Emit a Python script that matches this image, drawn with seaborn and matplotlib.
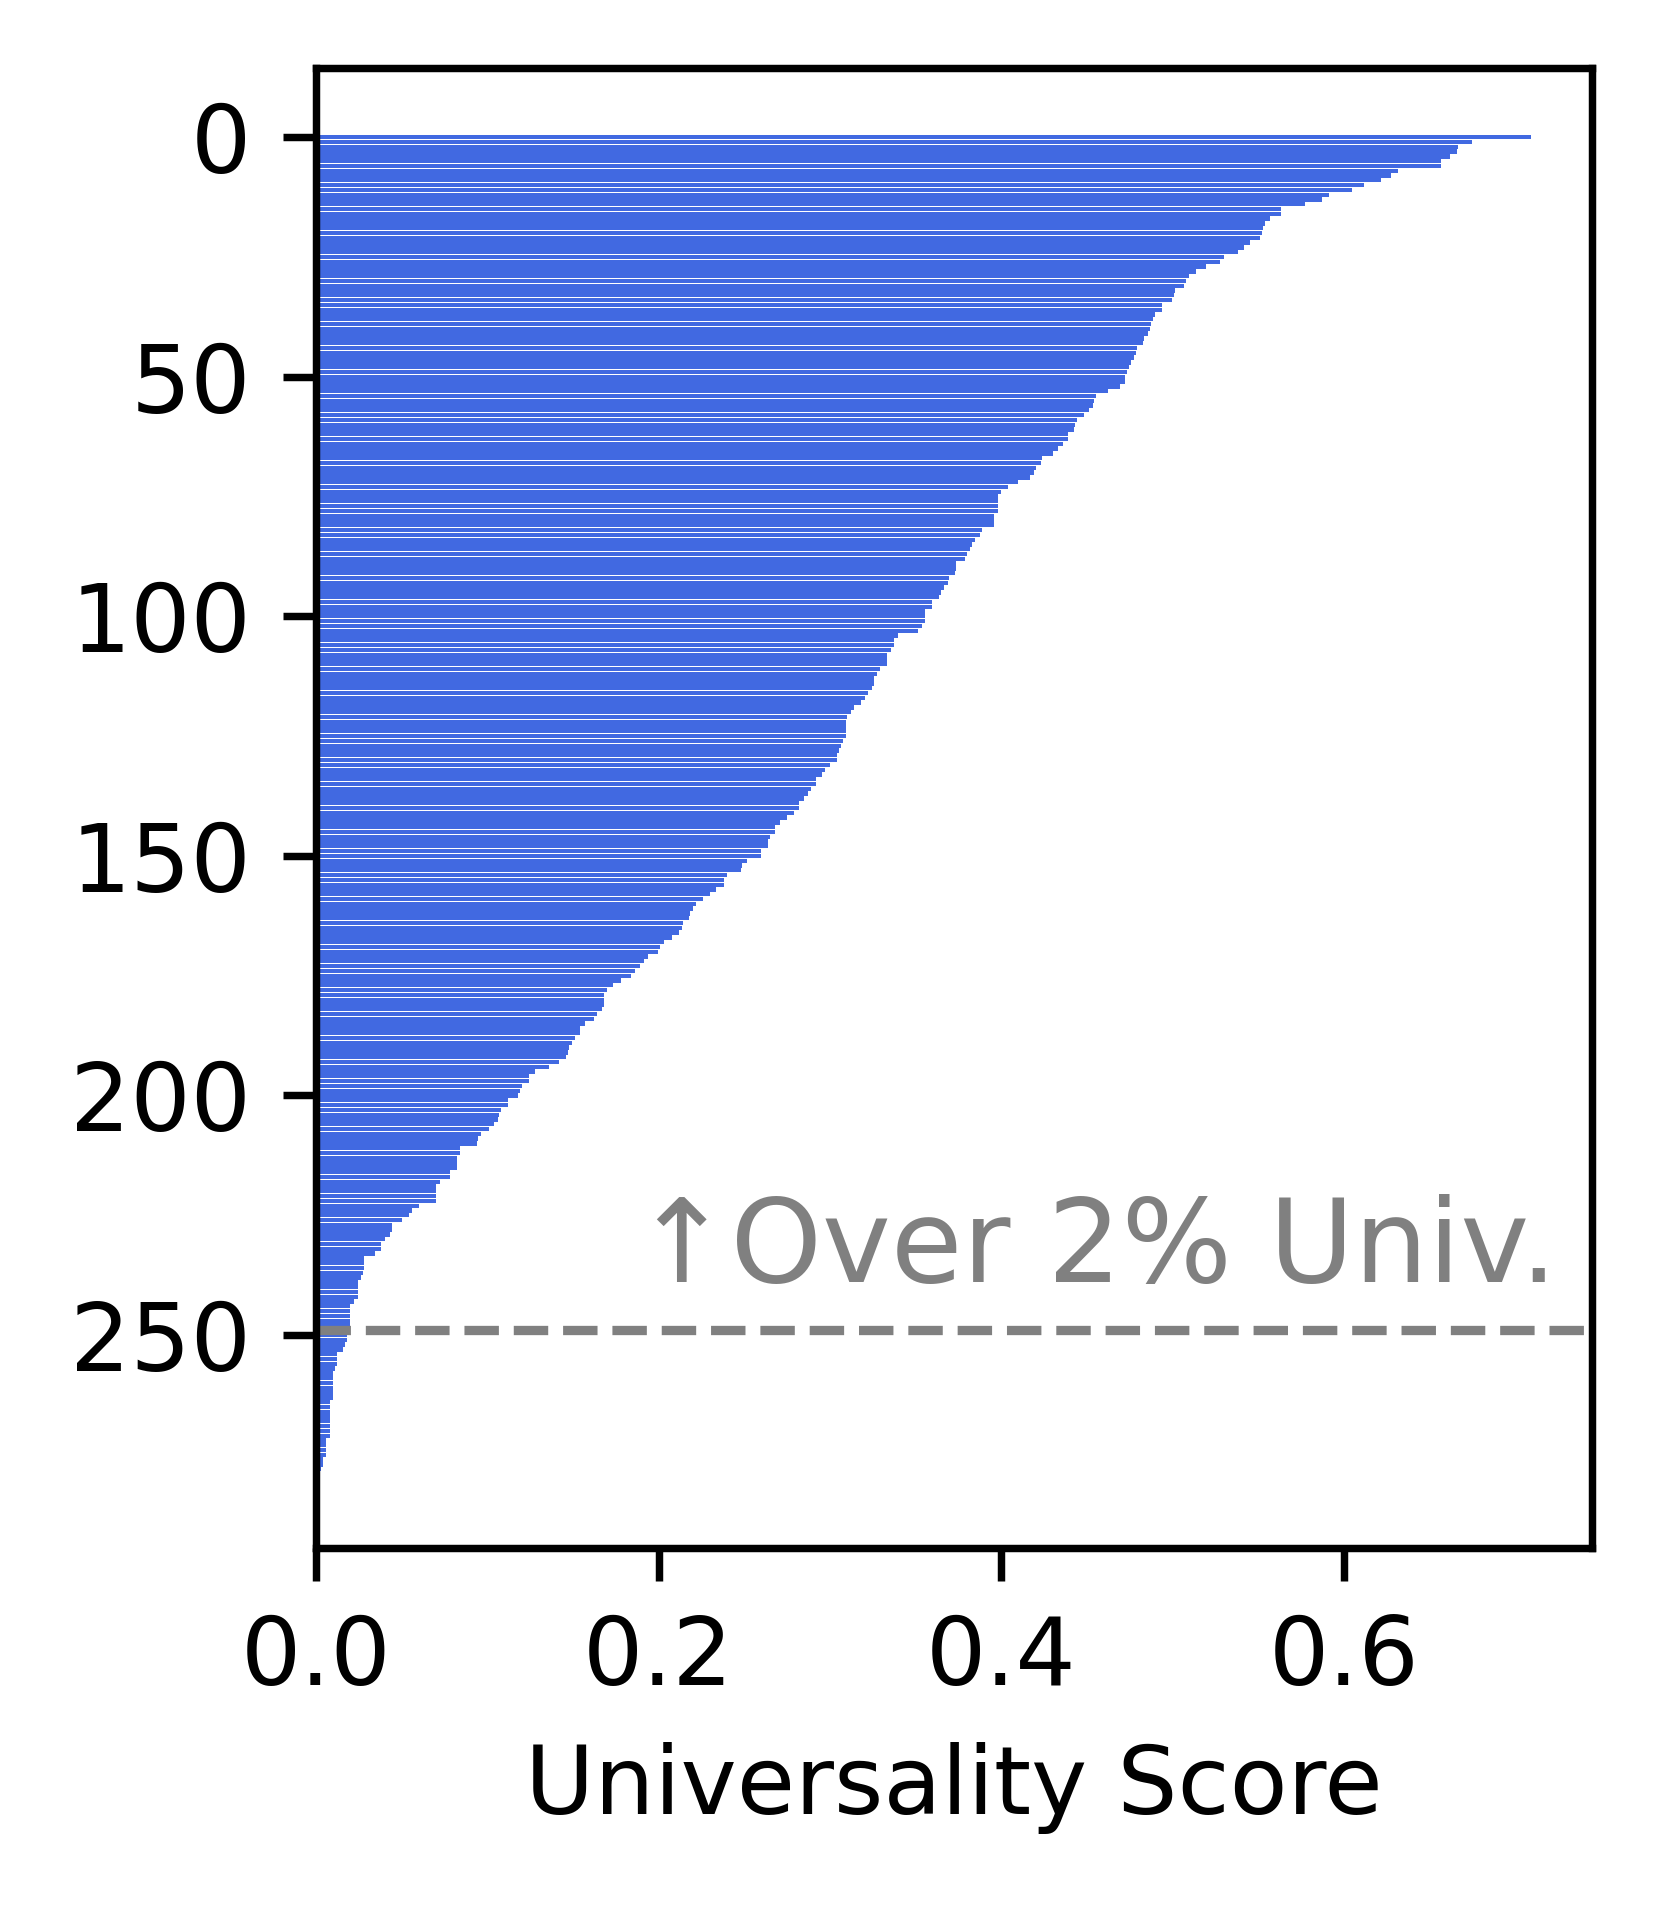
import matplotlib
matplotlib.use("Agg")
import matplotlib.pyplot as plt
import seaborn as sns
import numpy as np
import pandas as pd

# Universality score per feature, sorted descending
scores = [
    0.7093, 0.6751, 0.6670, 0.6660, 0.6620, 0.6570, 0.6570, 0.6318, 0.6277, 0.6217,
    0.6116, 0.6046, 0.5915, 0.5874, 0.5774, 0.5632, 0.5632, 0.5572, 0.5542, 0.5532,
    0.5522, 0.5512, 0.5451, 0.5421, 0.5381, 0.5300, 0.5280, 0.5199, 0.5139, 0.5098,
    0.5078, 0.5068, 0.5018, 0.5008, 0.4998, 0.4937, 0.4937, 0.4897, 0.4887, 0.4877,
    0.4867, 0.4857, 0.4836, 0.4826, 0.4796, 0.4786, 0.4776, 0.4756, 0.4746, 0.4736,
    0.4726, 0.4721, 0.4695, 0.4625, 0.4554, 0.4544, 0.4534, 0.4514, 0.4484, 0.4444,
    0.4433, 0.4423, 0.4393, 0.4393, 0.4363, 0.4333, 0.4302, 0.4237, 0.4232, 0.4202,
    0.4192, 0.4171, 0.4101, 0.4040, 0.4000, 0.3980, 0.3980, 0.3980, 0.3980, 0.3960,
    0.3960, 0.3960, 0.3889, 0.3879, 0.3849, 0.3829, 0.3819, 0.3799, 0.3789, 0.3738,
    0.3738, 0.3728, 0.3698, 0.3688, 0.3668, 0.3648, 0.3637, 0.3597, 0.3597, 0.3557,
    0.3557, 0.3557, 0.3537, 0.3517, 0.3396, 0.3375, 0.3375, 0.3355, 0.3335, 0.3335,
    0.3335, 0.3295, 0.3275, 0.3260, 0.3260, 0.3244, 0.3224, 0.3204, 0.3184, 0.3139,
    0.3124, 0.3103, 0.3093, 0.3093, 0.3093, 0.3093, 0.3078, 0.3063, 0.3053, 0.3039,
    0.3039, 0.3003, 0.2972, 0.2952, 0.2918, 0.2918, 0.2892, 0.2872, 0.2852, 0.2819,
    0.2819, 0.2791, 0.2751, 0.2710, 0.2678, 0.2678, 0.2650, 0.2640, 0.2640, 0.2599,
    0.2599, 0.2519, 0.2489, 0.2480, 0.2398, 0.2381, 0.2381, 0.2338, 0.2301, 0.2260,
    0.2219, 0.2200, 0.2186, 0.2180, 0.2141, 0.2139, 0.2120, 0.2076, 0.2030, 0.2010,
    0.1999, 0.1941, 0.1914, 0.1889, 0.1864, 0.1841, 0.1780, 0.1733, 0.1701, 0.1682,
    0.1682, 0.1682, 0.1668, 0.1642, 0.1621, 0.1572, 0.1542, 0.1542, 0.1511, 0.1496,
    0.1480, 0.1471, 0.1461, 0.1421, 0.1360, 0.1280, 0.1241, 0.1241, 0.1202, 0.1189,
    0.1181, 0.1122, 0.1122, 0.1081, 0.1068, 0.1062, 0.1042, 0.1008, 0.0962, 0.0947,
    0.0941, 0.0841, 0.0841, 0.0822, 0.0822, 0.0822, 0.0781, 0.0781, 0.0725, 0.0701,
    0.0701, 0.0701, 0.0701, 0.0602, 0.0561, 0.0542, 0.0504, 0.0442, 0.0442, 0.0433,
    0.0403, 0.0382, 0.0382, 0.0343, 0.0282, 0.0282, 0.0282, 0.0272, 0.0261, 0.0244,
    0.0244, 0.0244, 0.0244, 0.0221, 0.0201, 0.0201, 0.0201, 0.0201, 0.0196, 0.0186,
    0.0181, 0.0179, 0.0171, 0.0156, 0.0123, 0.0123, 0.0123, 0.0111, 0.0101, 0.0101,
    0.0101, 0.0101, 0.0101, 0.0101, 0.0082, 0.0082, 0.0082, 0.0082, 0.0082, 0.0082,
    0.0082, 0.0082, 0.0060, 0.0060, 0.0060, 0.0060, 0.0041, 0.0041, 0.0030, 0.0021,
    0.0021,
]
feature_rank = list(range(len(scores)))
threshold_rank = 249
x_ticks = [0.0, 0.2, 0.4, 0.6]
y_ticks = [0, 50, 100, 150, 200, 250]
annotation = "\u2191Over 2% Univ."

df = pd.DataFrame({"rank": feature_rank, "score": scores})

DPI = 670
fig = plt.figure(figsize=(1660 / DPI, 1905 / DPI), dpi=DPI)
ax = fig.add_axes([316 / 1660, 1 - 1548 / 1905, (1592 - 316) / 1660, (1548 - 68) / 1905])

sns.barplot(data=df, x="score", y="rank", orient="h", native_scale=True,
            color="#4169E1", saturation=1, width=0.9, linewidth=0, ax=ax)

ax.axhline(threshold_rank, color="gray", linestyle="--", linewidth=1.0)
ax.text(0.7246, 238.9, annotation, ha="right", va="baseline",
        fontsize=12.5, color="gray")

ax.set_xlim(0, 0.745)
ax.set_ylim(294.44, -14.44)
ax.set_xticks(x_ticks)
ax.set_xticklabels([f"{t:.1f}" for t in x_ticks])
ax.set_yticks(y_ticks)
ax.set_yticklabels([str(t) for t in y_ticks])
ax.tick_params(labelsize=10.2)
ax.set_xlabel("Universality Score", fontsize=10.2)
ax.set_ylabel("")

fig.savefig("out.png", dpi=DPI)
